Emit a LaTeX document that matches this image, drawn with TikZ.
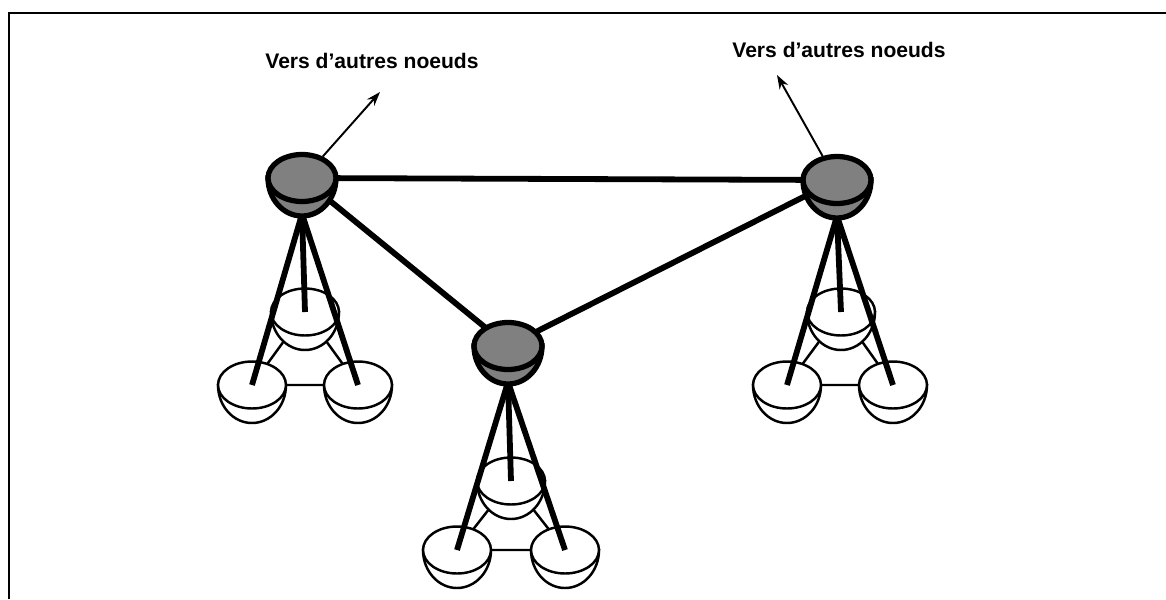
\documentclass[tikz,border=0pt]{standalone}
\usepackage{fontspec}
\setmainfont{Liberation Sans}
\usepackage{tikz}
\usetikzlibrary{arrows.meta, shapes.geometric}

% one bowl: a half ellipse below, a rim ellipse on top
\newcommand{\bowl}[3][small]{%
  \filldraw[#1] (#3) ++(-34,0) arc[start angle=180, end angle=0, x radius=34, y radius=38] -- cycle;
  \node[#1, ellipse, minimum width=1.36cm, minimum height=0.94cm, inner sep=0pt] (#2) at (#3) {};
}

\tikzset{
  small/.style={draw, line width=1.4pt, fill=white},
  big/.style={draw, line width=3pt, fill=gray},
  thin link/.style={line width=1.4pt},
  thick link/.style={line width=3.3pt},
  out arrow/.style={line width=1.1pt, -{Stealth[length=8pt, width=5.5pt]}},
  label text/.style={inner sep=0pt, font=\bfseries\fontsize{12}{14}\selectfont}
}

\begin{document}
\begin{tikzpicture}[x=0.02cm, y=-0.02cm]
    \useasboundingbox (0,0) rectangle (1166,599);
    \draw[line width=1.7pt] (9,599) -- (9,13) -- (1166,13);

    % centres
    \coordinate (gL) at (302,178);
    \coordinate (gM) at (508,346);
    \coordinate (gR) at (837,180);
    % feet of the gray nodes
    \coordinate (fL) at (302,214);
    \coordinate (fM) at (508,382);
    \coordinate (fR) at (837,216);
    \coordinate (L1) at (305,312);
    \coordinate (L2) at (252,385);
    \coordinate (L3) at (358,385);
    \coordinate (M1) at (511,481);
    \coordinate (M2) at (457,550);
    \coordinate (M3) at (565,550);
    \coordinate (R1) at (841,312);
    \coordinate (R2) at (787,385);
    \coordinate (R3) at (893,385);

    % small nodes
    \foreach \c in {L, M, R} {
        \draw[thin link] (\c1) -- (\c2) -- (\c3) -- cycle;
        \bowl{s\c1}{\c1}
        \bowl{s\c2}{\c2}
        \bowl{s\c3}{\c3}
    }
    \foreach \c in {L, M, R} {
        \draw[thick link] (f\c) -- (\c1);
        \draw[thick link] (f\c) -- (\c2);
        \draw[thick link] (f\c) -- (\c3);
    }

    % gray nodes
    \draw[thick link] (gL) -- (gR);
    \draw[thick link] (gL) -- (gM);
    \draw[thick link] (gM) -- (gR);
    \bowl[big]{nL}{gL}
    \bowl[big]{nM}{gM}
    \bowl[big]{nR}{gR}

    \coordinate (toL) at (380,92);
    \coordinate (toR) at (777,75);
    \draw[out arrow] (nL.46) -- (toL);
    \draw[out arrow] (nR.121) -- (toR);

    \node[label text, anchor=base west] (txtL) at (265,68) {Vers d'autres noeuds};
    \node[label text, anchor=base west] (txtR) at (732,57) {Vers d'autres noeuds};
\end{tikzpicture}
\end{document}
